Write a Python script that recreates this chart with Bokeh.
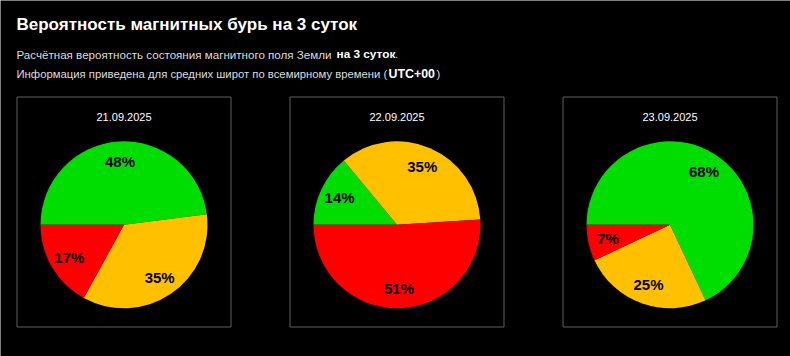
import math
from bokeh.plotting import figure
from bokeh.models import Range1d
from bokeh.core.properties import value
from bokeh.embed import file_html
from bokeh.resources import INLINE

W, H = 790, 356

# ---- data ----
dates = ["21.09.2025", "22.09.2025", "23.09.2025"]
green_pct = [48, 14, 68]
yellow_pct = [35, 35, 25]
red_pct = [17, 51, 7]
slice_colors = ["#00DD00", "#FFC000", "#FF0000"]

title = "Вероятность магнитных бурь на 3 суток"
sub1 = ["Расчётная вероятность состояния магнитного поля Земли ", "на 3 суток", "."]
sub2 = ["Информация приведена для средних широт по всемирному времени (", "UTC+00", ")"]

FONT = value("Liberation Sans")


def Y(y):
    return H - y


p = figure(width=W, height=H, x_range=Range1d(0, W), y_range=Range1d(0, H),
           output_backend="svg", toolbar_location=None, min_border=0,
           x_axis_location=None, y_axis_location=None,
           background_fill_color="black", border_fill_color="black",
           outline_line_color=None)
p.grid.visible = False

# title + subtitle
p.text(x=[16], y=[Y(24)], text=[title], text_font=FONT, text_font_size="17px",
       text_font_style="bold", text_color="white", text_baseline="alphabetic")

# (segments, x positions, baseline, normal size, bold size)
lines = [
    (sub1, [16, 336, 394.5], 53.5, "11.6px", "11.8px"),
    (sub2, [16, 388, 436], 73.5, "11.3px", "12.4px"),
]
for segs, xs, base, nsz, bsz in lines:
    for k, (s, x) in enumerate(zip(segs, xs)):
        bold = (k == 1)
        p.text(x=[x], y=[Y(base)], text=[s], text_font=FONT,
               text_font_size=bsz if bold else nsz,
               text_font_style="bold" if bold else "normal",
               text_color="white" if bold else "#dddddd", text_baseline="alphabetic")

# boxes and pies
BOX_L0, BOX_STEP, BOX_W = 16.5, 273, 214
BOX_TOP, BOX_BOT = 96.5, 326.5
PIE_CY, R = 224.3, 83.5
LR = 0.76 * R

for i, d in enumerate(dates):
    left = BOX_L0 + i * BOX_STEP
    cx = left + BOX_W / 2
    p.quad(left=[left], right=[left + BOX_W], top=[Y(BOX_TOP)], bottom=[Y(BOX_BOT)],
           fill_color=None, line_color="#5f5f5f", line_width=1)
    p.text(x=[cx], y=[Y(116)], text=[d], text_font=FONT, text_font_size="11px",
           text_color="white", text_align="center", text_baseline="middle")
    vals = [green_pct[i], yellow_pct[i], red_pct[i]]
    cum = 0
    for v, c in zip(vals, slice_colors):
        a0 = math.pi - 2 * math.pi * cum / 100
        a1 = math.pi - 2 * math.pi * (cum + v) / 100
        p.wedge(x=[cx], y=[Y(PIE_CY)], radius=R, start_angle=[a0], end_angle=[a1],
                direction="clock", fill_color=c, line_color=None)
        am = (a0 + a1) / 2
        p.text(x=[cx + LR * math.cos(am)], y=[Y(PIE_CY) + LR * math.sin(am)],
               text=[f"{v}%"], text_font=FONT, text_font_size="15px",
               text_font_style="bold", text_color="black",
               text_align="center", text_baseline="middle")
        cum += v

open("out.html", "w").write(file_html(p, INLINE))
